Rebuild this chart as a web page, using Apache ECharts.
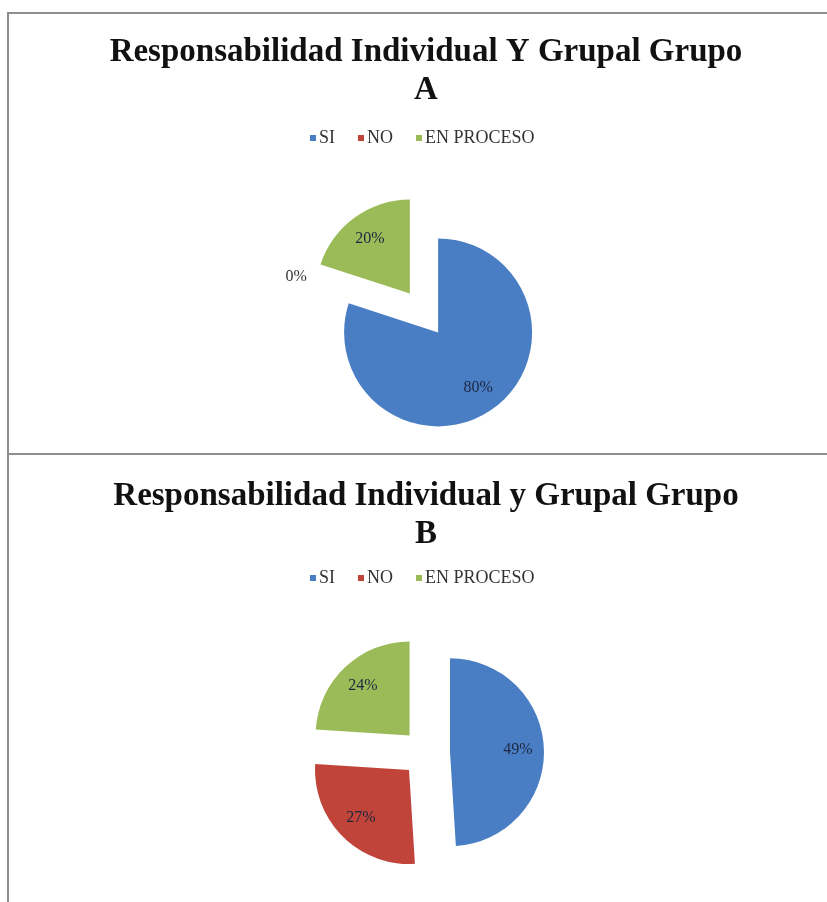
<!DOCTYPE html>
<html>
<head>
<meta charset="utf-8">
<script src="https://cdn.jsdelivr.net/npm/echarts@6/dist/echarts.min.js"></script>
<style>
  body { margin: 0; background: #fff; }
  #wrap { position: relative; width: 827px; height: 902px; overflow: hidden; }
  .frame { position: absolute; border-color: #8e8e8e; border-style: solid; }
  #chart { position: absolute; left: 0; top: 0; width: 827px; height: 902px; }
</style>
</head>
<body>
<div id="wrap">
  <div class="frame" style="left:7px;top:12px;width:840px;height:439px;border-width:2px 0 2px 2px;"></div>
  <div class="frame" style="left:7px;top:453px;width:840px;height:460px;border-width:0 0 0 2px;"></div>
  <div id="chart"></div>
</div>
<script>
  // datos
  const categorias = ['SI', 'NO', 'EN PROCESO']
  const grupoA = [80, 0, 20]
  const grupoB = [49, 27, 24]
  const colores = ['#4a7ec4', '#c0443a', '#9bbb59']
  const titulos = ['Responsabilidad Individual Y Grupal Grupo\nA', 'Responsabilidad Individual y Grupal Grupo\nB']

  let chart = echarts.init(document.getElementById('chart'))

  const serif = '"Liberation Serif", "DejaVu Serif", serif'

  function datos (valores, conEtiqueta) {
    return valores.map((v, i) => {
      let item = {name: categorias[i], value: v, selected: true}
      if (conEtiqueta && v === 0) {
        // etiqueta fuera para el 0%
        item.label = {position: 'outside', color: '#333'}
        item.labelLine = {show: false, length: 0, length2: 0}
      }
      return item
    })
  }

  function titulo (texto, top) {
    return {
      text: texto,
      left: 426,
      top: top,
      textAlign: 'center',
      padding: 0,
      textStyle: {
        fontFamily: serif,
        fontWeight: 'bold',
        fontSize: 33,
        lineHeight: 38,
        color: '#111'
      }
    }
  }

  function leyenda (top) {
    return {
      data: categorias,
      left: 310,
      top: top,
      padding: 0,
      icon: 'rect',
      itemWidth: 6,
      itemHeight: 6,
      itemGap: 23,
      selectedMode: false,
      textStyle: {fontFamily: serif, fontSize: 18, color: '#333', padding: [0, 0, 0, -2]}
    }
  }

  // tarta visible
  function tarta (valores, centro) {
    return {
      type: 'pie',
      radius: 94,
      center: centro,
      startAngle: 90,
      selectedMode: 'multiple',
      selectedOffset: 24,
      silent: true,
      label: {show: false},
      labelLine: {show: false},
      itemStyle: {borderWidth: 0},
      emphasis: {disabled: true},
      data: datos(valores, false)
    }
  }

  // anillo transparente solo para colocar las etiquetas como en excel
  function etiquetas (valores, centro) {
    return {
      type: 'pie',
      radius: [36, 94],
      center: centro,
      startAngle: 90,
      selectedMode: 'multiple',
      selectedOffset: 24,
      avoidLabelOverlap: false,
      silent: true,
      label: {
        show: true,
        position: 'inside',
        formatter: '{c}%',
        fontFamily: serif,
        fontSize: 16,
        color: '#1c2740'
      },
      labelLine: {show: false},
      itemStyle: {color: 'rgba(0,0,0,0)', borderWidth: 0},
      emphasis: {disabled: true},
      data: datos(valores, true)
    }
  }

  chart.setOption({
    color: colores,
    animation: false,
    title: [titulo(titulos[0], 33), titulo(titulos[1], 477)],
    legend: [leyenda(129), leyenda(569)],
    series: [
      tarta(grupoA, [424, 313]),
      tarta(grupoB, [426, 753]),
      etiquetas(grupoA, [424, 313]),
      etiquetas(grupoB, [426, 753])
    ]
  })
</script>
</body>
</html>
